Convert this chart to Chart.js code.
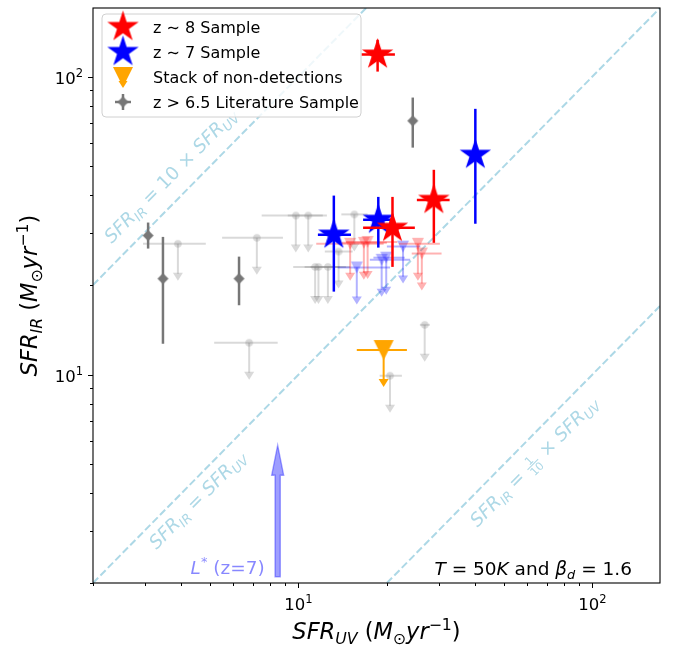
<!DOCTYPE html>
<html lang="en">
<head>
<meta charset="utf-8">
<title>SFR IR vs SFR UV</title>
<script src="https://cdn.jsdelivr.net/npm/chart.js@4.4.1/dist/chart.umd.min.js"></script>
<style>
  html, body { margin: 0; padding: 0; background: #fff; }
  canvas { display: block; }
</style>
</head>
<body>
<canvas id="sfrChart" width="680" height="650"></canvas>
<script>
// axis limits, both axes logarithmic
const xRange = [2, 170];
const yRange = [2, 170];

// z~8 detections
const z8X   = [18.6, 28.9, 20.9];
const z8Y   = [118.6, 38.6, 31.1];
const z8XLo = [16.4, 25.3, 16.6];
const z8XHi = [21.3, 32.7, 24.9];
const z8YLo = [104, 27.7, 23.0];
const z8YHi = [133, 48.7, 39.5];

// z~7 detections
const z7X   = [13.2, 18.7, 40.0];
const z7Y   = [29.5, 33.1, 54.7];
const z7XLo = [11.65, 16.6, 39.5];
const z7XHi = [15.1, 21.0, 40.5];
const z7YLo = [19.0, 26.7, 32.1];
const z7YHi = [39.9, 39.5, 78.0];

// stacked non-detections (upper limit)
const stackX   = [19.5];
const stackY   = [12.1];
const stackXLo = [15.8];
const stackXHi = [23.4];

// literature detections
const litX   = [3.08, 3.46, 6.28, 24.5];
const litY   = [29.3, 21.0, 21.0, 71.1];
const litYLo = [26.5, 12.7, 17.1, 57.8];
const litYHi = [32.4, 29.0, 24.9, 85.1];

// upper limits: z~8, z~7 and literature
const z8LimX   = [15.0, 16.7, 17.2, 25.5, 26.3];
const z8LimY   = [27.5, 27.7, 27.9, 27.5, 25.5];
const z8LimXLo = [11.5, 14.0, 14.5, 22.0, 24.3];
const z8LimXHi = [19.5, 20.0, 21.7, 30.3, 30.7];

const z7LimX   = [15.8, 19.2, 19.9, 22.7];
const z7LimY   = [22.9, 24.3, 24.7, 26.9];
const z7LimXLo = [13.6, 17.5, 18.0, 20.0];
const z7LimXHi = [20.5, 24.0, 23.0, 26.0];

const litLimX   = [3.89, 7.22, 6.8, 9.8, 10.8, 15.5, 11.4, 11.7, 12.6, 13.7, 26.9, 20.5];
const litLimY   = [27.5, 28.8, 12.8, 34.2, 34.2, 34.5, 23.0, 23.0, 23.0, 25.9, 14.7, 9.92];
const litLimXLo = [2.96, 5.5, 5.17, 7.5, 9.2, 14.0, 9.6, 10.5, 11.0, 12.3, 25.9, 18.9];
const litLimXHi = [4.84, 8.86, 8.5, 12.1, 12.5, 17.2, 13.8, 14.5, 15.0, 15.3, 28.0, 22.5];

// reference relations SFR_IR = 10, 1, 1/10 x SFR_UV
const line10X = [2, 17];
const line10Y = [20, 170];
const line1X  = [2, 170];
const line1Y  = [2, 170];
const line01X = [20, 170];
const line01Y = [2, 17];

// L* at z=7
const lstarX = 8.5;
const lstarY = [2.1, 5.8];

const SANS = '"DejaVu Sans", sans-serif';
const LINE_BLUE = '#add8e6';

function pts(xs, ys, extra = {}) {
  return xs.map((x, i) => {
    const p = { x, y: ys[i] };
    for (const k in extra) p[k] = extra[k][i];
    return p;
  });
}

// ---- marker images -------------------------------------------------------
function makeMarker(size, draw) {
  const c = document.createElement('canvas');
  c.width = size; c.height = size;
  draw(c.getContext('2d'), size / 2);
  return c;
}
function starMarker(fill, R) {
  return makeMarker(Math.ceil(2 * R + 4), (g, c) => {
    g.beginPath();
    for (let k = 0; k < 10; k++) {
      const a = -Math.PI / 2 + k * Math.PI / 5;
      const r = k % 2 ? R * 0.381 : R;
      g.lineTo(c + r * Math.cos(a), c + r * Math.sin(a));
    }
    g.closePath();
    g.fillStyle = fill; g.fill();
  });
}
function triDownMarker(fill, w) {
  return makeMarker(Math.ceil(w + 4), (g, c) => {
    g.beginPath();
    g.moveTo(c - w / 2, c - w / 2);
    g.lineTo(c + w / 2, c - w / 2);
    g.lineTo(c, c + w / 2);
    g.closePath();
    g.fillStyle = fill; g.fill();
  });
}
function diamondMarker(fill, h) {
  return makeMarker(Math.ceil(2 * h + 4), (g, c) => {
    g.beginPath();
    g.moveTo(c, c - h); g.lineTo(c + h, c); g.lineTo(c, c + h); g.lineTo(c - h, c);
    g.closePath();
    g.fillStyle = fill; g.fill();
  });
}
function circleMarker(fill, r) {
  return makeMarker(Math.ceil(2 * r + 4), (g, c) => {
    g.beginPath(); g.arc(c, c, r, 0, Math.PI * 2);
    g.fillStyle = fill; g.fill();
  });
}

const marks = {
  redStar:    starMarker('#ff0000', 16.5),
  blueStar:   starMarker('#0000ff', 16.5),
  orangeTri:  triDownMarker('#ffa500', 20),
  grayDia:    diamondMarker('#777777', 5.5),
  pinkTri:    triDownMarker('rgba(255,0,0,0.3)', 12),
  lilacTri:   triDownMarker('rgba(0,0,255,0.3)', 12),
  grayDot:    circleMarker('rgba(128,128,128,0.3)', 3.8)
};

// ---- rich text (italic, sub/superscripts, small fractions) -----------------
function fontOf(p, size) {
  return (p.i ? 'italic ' : '') + size.toFixed(2) + 'px ' + SANS;
}
function layoutRich(ctx, parts, size) {
  let w = 0;
  const items = parts.map(p => {
    let s, tw;
    if (p.frac) {
      s = size * 0.6;
      ctx.font = fontOf({}, s);
      tw = Math.max(ctx.measureText(p.frac[0]).width, ctx.measureText(p.frac[1]).width) + 3;
    } else {
      s = (p.sub || p.sup) ? size * 0.7 : size;
      ctx.font = fontOf(p, s);
      tw = ctx.measureText(p.t).width;
    }
    const it = { p, s, x: w, w: tw };
    w += tw;
    return it;
  });
  return { items, w };
}
function drawRich(ctx, parts, x, y, size, align, color) {
  const { items, w } = layoutRich(ctx, parts, size);
  const x0 = align === 'center' ? x - w / 2 : align === 'right' ? x - w : x;
  ctx.fillStyle = color; ctx.strokeStyle = color;
  ctx.textBaseline = 'alphabetic';
  items.forEach(it => {
    const p = it.p;
    if (p.frac) {
      const axis = y - size * 0.27;
      const cx = x0 + it.x + it.w / 2;
      ctx.font = fontOf({}, it.s);
      ctx.textAlign = 'center';
      ctx.fillText(p.frac[0], cx, axis - size * 0.09);
      ctx.fillText(p.frac[1], cx, axis + size * 0.09 + it.s * 0.73);
      ctx.lineWidth = 1;
      ctx.beginPath();
      ctx.moveTo(x0 + it.x + 1, axis); ctx.lineTo(x0 + it.x + it.w - 1, axis);
      ctx.stroke();
      return;
    }
    const dy = p.sub ? size * 0.22 : p.sup ? -size * 0.42 : 0;
    ctx.font = fontOf(p, it.s);
    ctx.textAlign = 'left';
    ctx.fillText(p.t, x0 + it.x, y + dy);
  });
  return w;
}

const sfrSub = sub => [{ t: 'SFR', i: 1 }, { t: sub, i: 1, sub: 1 }];
const xTitle = [...sfrSub('UV'), { t: ' (' }, { t: 'M', i: 1 }, { t: '\u2299', sub: 1 }, { t: 'yr', i: 1 }, { t: '\u22121', sup: 1 }, { t: ')' }];
const yTitle = [...sfrSub('IR'), { t: ' (' }, { t: 'M', i: 1 }, { t: '\u2299', sub: 1 }, { t: 'yr', i: 1 }, { t: '\u22121', sup: 1 }, { t: ')' }];
const diagLabels = [
  { parts: [...sfrSub('IR'), { t: ' = 10 \u00d7 ' }, ...sfrSub('UV')], at: [3.66, 46.6], size: 18.5 },
  { parts: [...sfrSub('IR'), { t: ' = ' }, ...sfrSub('UV')], at: [4.52, 3.81], size: 18.5 },
  { parts: [...sfrSub('IR'), { t: ' = ' }, { frac: ['1', '10'] }, { t: ' \u00d7 ' }, ...sfrSub('UV')], at: [63.2, 5.11], size: 18.5 }
];
const tempNote = [{ t: 'T', i: 1 }, { t: ' = 50' }, { t: 'K', i: 1 }, { t: ' and ' }, { t: '\u03b2', i: 1 }, { t: 'd', i: 1, sub: 1 }, { t: ' = 1.6' }];
const lstarNote = [{ t: 'L', i: 1 }, { t: '*', sup: 1 }, { t: ' (z=7)' }];

// ---- error bars and upper-limit arrows --------------------------------------
function caretDown(ctx, x, y, w, h) {
  ctx.beginPath();
  ctx.moveTo(x - w / 2, y); ctx.lineTo(x + w / 2, y); ctx.lineTo(x, y + h);
  ctx.closePath(); ctx.fill();
}
function seg(ctx, x1, y1, x2, y2) {
  ctx.beginPath(); ctx.moveTo(x1, y1); ctx.lineTo(x2, y2); ctx.stroke();
}
function drawErrorBars(chart, ds) {
  const eb = ds.errorBars;
  const { x: sx, y: sy } = chart.scales;
  const a = chart.chartArea, ctx = chart.ctx;
  ctx.save();
  ctx.beginPath(); ctx.rect(a.left, a.top, a.right - a.left, a.bottom - a.top); ctx.clip();
  ctx.strokeStyle = eb.color; ctx.fillStyle = eb.color;
  ctx.lineWidth = eb.width; ctx.lineCap = 'butt';
  ds.data.forEach(p => {
    const px = sx.getPixelForValue(p.x), py = sy.getPixelForValue(p.y);
    if (p.xLo != null) seg(ctx, sx.getPixelForValue(p.xLo), py, sx.getPixelForValue(p.xHi), py);
    if (p.yLo != null) seg(ctx, px, sy.getPixelForValue(p.yLo), px, sy.getPixelForValue(p.yHi));
    if (eb.upper) {
      seg(ctx, px, py, px, py + 30);
      caretDown(ctx, px, py + 29, 10, 8);
    }
  });
  ctx.restore();
}

// ---- decorations: frame, ticks, titles, notes, legend -------------------------
function drawFrameAndTicks(chart) {
  const ctx = chart.ctx, a = chart.chartArea;
  const { x: sx, y: sy } = chart.scales;
  ctx.save();
  ctx.strokeStyle = '#000'; ctx.lineWidth = 1.1;
  ctx.strokeRect(a.left, a.top, a.right - a.left, a.bottom - a.top);
  const nice = v => { const m = v / Math.pow(10, Math.floor(Math.log10(v) + 1e-9)); return Math.abs(m - Math.round(m)) < 1e-6; };
  const major = v => Math.abs(Math.log10(v) - Math.round(Math.log10(v))) < 1e-9;
  ctx.lineWidth = 1;
  sx.ticks.forEach(t => {
    if (!nice(t.value)) return;
    const px = Math.round(sx.getPixelForValue(t.value)) + 0.5;
    const len = major(t.value) ? 5 : 3;
    seg(ctx, px, a.bottom, px, a.bottom + len);
    if (major(t.value)) drawRich(ctx, [{ t: '10' }, { t: String(Math.round(Math.log10(t.value))), sup: 1 }], px, a.bottom + 27, 16.5, 'center', '#000');
  });
  sy.ticks.forEach(t => {
    if (!nice(t.value)) return;
    const py = Math.round(sy.getPixelForValue(t.value)) + 0.5;
    const len = major(t.value) ? 5 : 3;
    seg(ctx, a.left - len, py, a.left, py);
    if (major(t.value)) drawRich(ctx, [{ t: '10' }, { t: String(Math.round(Math.log10(t.value))), sup: 1 }], a.left - 10, py + 6, 16.5, 'right', '#000');
  });
  ctx.restore();
}

function drawTitles(chart) {
  const ctx = chart.ctx, a = chart.chartArea;
  ctx.save();
  drawRich(ctx, xTitle, (a.left + a.right) / 2, a.bottom + 56, 22.5, 'center', '#000');
  ctx.translate(37, (a.top + a.bottom) / 2);
  ctx.rotate(-Math.PI / 2);
  drawRich(ctx, yTitle, 0, 0, 22.5, 'center', '#000');
  ctx.restore();
}

function drawAnnotations(chart) {
  const ctx = chart.ctx, a = chart.chartArea;
  const { x: sx, y: sy } = chart.scales;
  const ang = Math.atan2(sy.getPixelForValue(line1Y[1]) - sy.getPixelForValue(line1Y[0]),
                         sx.getPixelForValue(line1X[1]) - sx.getPixelForValue(line1X[0]));
  diagLabels.forEach(d => {
    ctx.save();
    ctx.translate(sx.getPixelForValue(d.at[0]), sy.getPixelForValue(d.at[1]));
    ctx.rotate(ang);
    drawRich(ctx, d.parts, 0, d.size * 0.35, d.size, 'center', LINE_BLUE);
    ctx.restore();
  });

  // L* arrow: translucent body with a slightly denser outline
  const ax = sx.getPixelForValue(lstarX);
  const yBase = sy.getPixelForValue(lstarY[0]), yTip = sy.getPixelForValue(lstarY[1]);
  const headLen = 30, headHalf = 6, shaftHalf = 2.6;
  ctx.save();
  ctx.beginPath();
  ctx.moveTo(ax - shaftHalf, yBase);
  ctx.lineTo(ax - shaftHalf, yTip + headLen);
  ctx.lineTo(ax - headHalf, yTip + headLen);
  ctx.lineTo(ax, yTip);
  ctx.lineTo(ax + headHalf, yTip + headLen);
  ctx.lineTo(ax + shaftHalf, yTip + headLen);
  ctx.lineTo(ax + shaftHalf, yBase);
  ctx.closePath();
  ctx.fillStyle = 'rgba(0,0,255,0.38)'; ctx.fill();
  ctx.strokeStyle = 'rgba(0,0,255,0.35)'; ctx.lineWidth = 1.4; ctx.stroke();
  drawRich(ctx, lstarNote, ax - 13, a.bottom - 9, 18.5, 'right', 'rgba(0,0,255,0.47)');
  drawRich(ctx, tempNote, a.right - 28, a.bottom - 8, 18.5, 'right', '#000');
  ctx.restore();
}

function drawLegend(chart) {
  const ctx = chart.ctx, a = chart.chartArea;
  const x0 = a.left + 9, y0 = a.top + 6, w = 259, h = 103, r = 4;
  ctx.save();
  ctx.beginPath();
  ctx.moveTo(x0 + r, y0);
  ctx.arcTo(x0 + w, y0, x0 + w, y0 + h, r);
  ctx.arcTo(x0 + w, y0 + h, x0, y0 + h, r);
  ctx.arcTo(x0, y0 + h, x0, y0, r);
  ctx.arcTo(x0, y0, x0 + w, y0, r);
  ctx.closePath();
  ctx.fillStyle = 'rgba(255,255,255,0.8)'; ctx.fill();
  ctx.strokeStyle = '#d0d0d0'; ctx.lineWidth = 1; ctx.stroke();

  const ds = chart.data.datasets;
  const mx = x0 + 21, tx = x0 + 51;
  const img = (m, cx, cy) => ctx.drawImage(m, cx - m.width / 2, cy - m.height / 2);
  [0, 1, 2, 3].forEach((k, row) => {
    const cy = y0 + 13 + row * 25;
    const d = ds[k];
    if (k === 2) {
      ctx.strokeStyle = d.errorBars.color; ctx.fillStyle = d.errorBars.color; ctx.lineWidth = 2;
      seg(ctx, mx, cy, mx, cy + 5);
      caretDown(ctx, mx, cy + 4, 9, 7);
    }
    if (k === 3) {
      ctx.strokeStyle = d.errorBars.color; ctx.lineWidth = 2.5;
      seg(ctx, mx, cy - 8, mx, cy + 8);
      seg(ctx, mx - 8, cy, mx + 8, cy);
    }
    img(d.pointStyle, mx, cy);
    ctx.fillStyle = '#000';
    ctx.font = '16px ' + SANS;
    ctx.textAlign = 'left'; ctx.textBaseline = 'alphabetic';
    ctx.fillText(d.label, tx, cy + 6);
  });
  ctx.restore();
}

const sfrDecor = {
  id: 'sfrDecor',
  beforeDatasetDraw(chart, args) {
    const ds = chart.data.datasets[args.index];
    if (ds.errorBars) drawErrorBars(chart, ds);
  },
  afterDatasetsDraw(chart) {
    drawAnnotations(chart);
  },
  afterDraw(chart) {
    drawFrameAndTicks(chart);
    drawTitles(chart);
    drawLegend(chart);
  }
};

const refLine = (xs, ys) => ({
  label: 'relation', data: pts(xs, ys), showLine: true,
  borderColor: LINE_BLUE, borderWidth: 2, borderDash: [7.4, 3.2],
  pointRadius: 0, pointHoverRadius: 0
});

// first dataset is drawn on top
const datasets = [
  { label: 'z \u223c 8 Sample', data: pts(z8X, z8Y, { xLo: z8XLo, xHi: z8XHi, yLo: z8YLo, yHi: z8YHi }),
    pointStyle: marks.redStar, pointRadius: 16, errorBars: { color: '#ff0000', width: 2.5 } },
  { label: 'z \u223c 7 Sample', data: pts(z7X, z7Y, { xLo: z7XLo, xHi: z7XHi, yLo: z7YLo, yHi: z7YHi }),
    pointStyle: marks.blueStar, pointRadius: 16, errorBars: { color: '#0000ff', width: 2.5 } },
  { label: 'Stack of non-detections', data: pts(stackX, stackY, { xLo: stackXLo, xHi: stackXHi }),
    pointStyle: marks.orangeTri, pointRadius: 10, errorBars: { color: '#ffa500', width: 2, upper: true } },
  { label: 'z > 6.5 Literature Sample', data: pts(litX, litY, { yLo: litYLo, yHi: litYHi }),
    pointStyle: marks.grayDia, pointRadius: 5, errorBars: { color: '#777777', width: 2.5 } },
  { label: 'z~8 limits', data: pts(z8LimX, z8LimY, { xLo: z8LimXLo, xHi: z8LimXHi }),
    pointStyle: marks.pinkTri, pointRadius: 5, errorBars: { color: 'rgba(255,0,0,0.3)', width: 2, upper: true } },
  { label: 'z~7 limits', data: pts(z7LimX, z7LimY, { xLo: z7LimXLo, xHi: z7LimXHi }),
    pointStyle: marks.lilacTri, pointRadius: 5, errorBars: { color: 'rgba(0,0,255,0.3)', width: 2, upper: true } },
  { label: 'literature limits', data: pts(litLimX, litLimY, { xLo: litLimXLo, xHi: litLimXHi }),
    pointStyle: marks.grayDot, pointRadius: 4, errorBars: { color: 'rgba(128,128,128,0.3)', width: 2, upper: true } },
  refLine(line10X, line10Y),
  refLine(line1X, line1Y),
  refLine(line01X, line01Y)
];

const logAxis = (range, fit) => ({
  type: 'logarithmic', min: range[0], max: range[1],
  grid: { display: false }, border: { display: false },
  ticks: { display: false, autoSkip: false },
  afterFit: fit
});

new Chart(document.getElementById('sfrChart'), {
  type: 'scatter',
  data: { datasets },
  options: {
    responsive: false,
    devicePixelRatio: 1,
    animation: false,
    events: [],
    layout: { autoPadding: false, padding: { left: 0, right: 20, top: 8, bottom: 0 } },
    plugins: { legend: { display: false }, tooltip: { enabled: false } },
    scales: {
      x: logAxis(xRange, s => { s.height = 67; }),
      y: logAxis(yRange, s => { s.width = 93; })
    }
  },
  plugins: [sfrDecor]
});
</script>
</body>
</html>
